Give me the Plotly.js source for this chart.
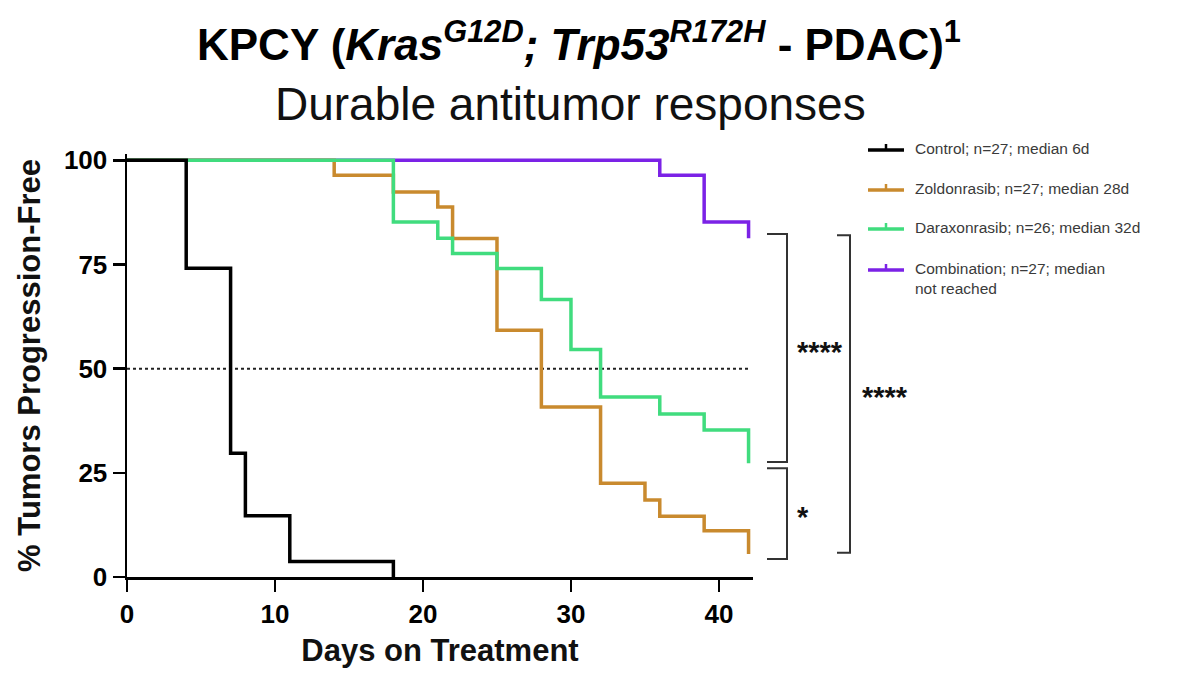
<!DOCTYPE html>
<html><head><meta charset="utf-8">
<script src="https://cdn.plot.ly/plotly-3.0.1.min.js"></script>
<style>html,body{margin:0;padding:0;background:#fff;}</style>
</head><body><div id="chart" style="width:1199px;height:691px;"></div>
<script>
// ---- data ----
const seriesNames = ['Control; n=27; median 6d','Zoldonrasib; n=27; median 28d','Daraxonrasib; n=26; median 32d','Combination; n=27; median<br>not reached'];
const controlDays = [0,4,7,8,11,18];
const controlPct  = [100,74.1,29.7,14.7,3.7,0];
const zoldDays = [0,14,18,21,22,25,28,32,35,36,39,42];
const zoldPct  = [100,96.4,92.4,88.8,81.2,59.2,40.8,22.5,18.5,14.6,11.1,5.5];
const daraDays = [0,18,21,22,25,28,30,32,36,39,42];
const daraPct  = [100,85.2,81.3,77.6,74,66.6,54.6,43.2,39.1,35.3,27.3];
const comboDays = [0,36,39,42];
const comboPct  = [100,96.4,85.2,81.3];
const xTicks = [0,10,20,30,40];
const yTicks = [0,25,50,75,100];
const medianRef = 50;
const sigLabels = ['****','*','****'];
const sigTop    = [82.3,26.1,82.0];
const sigBottom = [27.6,4.3,5.8];

// ---- styling / geometry ----
const colors = ['#000000','#c98a2e','#40dc7e','#7b22e6'];
const W = 1199, H = 691;
const L = 127, R = 446, T = 154, B = 114;
const XMAX = 42.3, YMAX = 101.5;
const PW = W - L - R, PH = H - T - B;
const FONT = 'Liberation Sans, Arial, sans-serif';
const px2x = p => (p - L) / PW;          // pixel -> paper x
const py2y = p => (H - B - p) / PH;      // pixel -> paper y
const v2y = v => v / YMAX;               // data -> paper y

const seriesDays = [controlDays, zoldDays, daraDays, comboDays];
const seriesPct = [controlPct, zoldPct, daraPct, comboPct];
const drawOrder = [3,1,2,0];

const traces = drawOrder.map(i => ({
  type:'scatter', mode:'lines', x: seriesDays[i], y: seriesPct[i],
  line:{shape:'hv', color: colors[i], width:3.5},
  name: seriesNames[i], showlegend:false, hoverinfo:'skip'
}));

const shapes = [];
const annotations = [];

// median reference line
shapes.push({type:'line', xref:'x', yref:'y', x0:0, x1:42, y0:medianRef, y1:medianRef,
  line:{color:'#222', width:2, dash:'dot'}, layer:'below'});

// significance brackets
const bx = [[767,787],[767,787],[837,850]];
const starX = [795,795,860];
const starY = [347,512,392];
sigLabels.forEach((lab,i) => {
  const x0 = px2x(bx[i][0]), x1 = px2x(bx[i][1]);
  const yt = v2y(sigTop[i]), yb = v2y(sigBottom[i]);
  shapes.push({type:'path', xref:'paper', yref:'paper',
    path:`M ${x0} ${yt} L ${x1} ${yt} L ${x1} ${yb} L ${x0} ${yb}`,
    line:{color:'#333', width:2}});
  annotations.push({xref:'paper', yref:'paper', x:px2x(starX[i]), y:py2y(starY[i] + 5),
    text:'<b>'+lab+'</b>', showarrow:false, xanchor:'left', yanchor:'middle',
    font:{family:FONT, size:29, color:'#111'}});
});

// custom legend
const legY = [150,190,229,270];
seriesNames.forEach((nm,i) => {
  const y = py2y(legY[i]);
  shapes.push({type:'line', xref:'paper', yref:'paper', x0:px2x(868), x1:px2x(904), y0:y, y1:y,
    line:{color:colors[i], width:3.5}});
  shapes.push({type:'line', xref:'paper', yref:'paper', x0:px2x(886), x1:px2x(886), y0:y, y1:py2y(legY[i]-6),
    line:{color:colors[i], width:2.5}});
  annotations.push({xref:'paper', yref:'paper', x:px2x(913), y:py2y(legY[i]-12),
    text:nm, showarrow:false, xanchor:'left', yanchor:'top', align:'left',
    font:{family:FONT, size:15.5, color:'#3a3a3a'}});
});

// subtitle
annotations.push({xref:'paper', yref:'paper', x:px2x(570), y:py2y(104),
  text:'Durable antitumor responses', showarrow:false, xanchor:'center', yanchor:'middle',
  font:{family:FONT, size:46, color:'#111'}});

const axisCommon = {
  showline:true, linecolor:'#000', linewidth:2.5, ticks:'outside', ticklen:12, tickwidth:2.5, tickcolor:'#000',
  showgrid:false, zeroline:false, fixedrange:true,
  tickfont:{family:FONT, size:26, color:'#000', weight:700}
};

const layout = {
  width:W, height:H, margin:{l:L, r:R, t:T, b:B}, paper_bgcolor:'#fff', plot_bgcolor:'#fff',
  showlegend:false,
  title:{text:'<b>KPCY (<i>Kras</i><sup><i>G12D</i></sup><i>;</i> <i>Trp53</i><sup><i>R172H</i></sup> - PDAC)<sup>1</sup></b>',
    font:{family:FONT, size:44, color:'#000'}, xref:'container', yref:'container',
    x:579/W, y:1-45/H, xanchor:'center', yanchor:'middle'},
  xaxis: Object.assign({}, axisCommon, {range:[0,XMAX], tickvals:xTicks, ticktext:xTicks.map(String),
    title:{text:'<b>Days on Treatment</b>', font:{family:FONT, size:31, color:'#111'}, standoff:12}}),
  yaxis: Object.assign({}, axisCommon, {range:[0,YMAX], tickvals:yTicks, ticktext:yTicks.map(String),
    title:{text:'<b>% Tumors Progression-Free</b>', font:{family:FONT, size:31, color:'#111'}, standoff:14}}),
  shapes: shapes, annotations: annotations
};

Plotly.newPlot('chart', traces, layout, {displayModeBar:false, staticPlot:true});
</script></body></html>
